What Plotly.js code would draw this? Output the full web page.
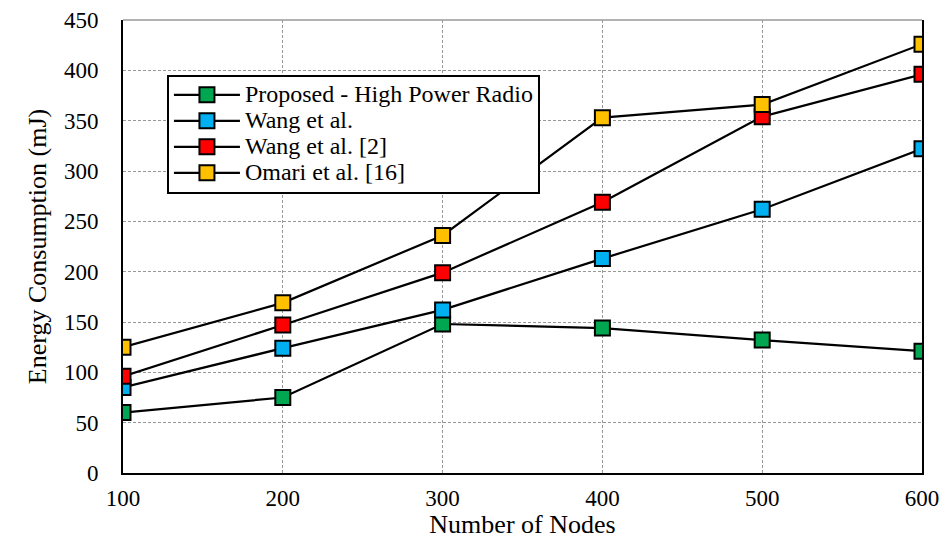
<!DOCTYPE html>
<html>
<head>
<meta charset="utf-8">
<script src="https://cdn.plot.ly/plotly-3.0.1.min.js"></script>
<style>html,body{margin:0;padding:0;background:#fff;}#chart{width:942px;height:539px;}</style>
</head>
<body>
<div id="chart"></div>
<script>
const nodes = [100, 200, 300, 400, 500, 600];
const proposed = [60, 75, 148, 144, 132, 121];
const wang = [85, 124, 162, 213, 262, 322];
const wang2 = [96, 147, 199, 269, 354, 396];
const omari = [125, 169, 236, 353, 366, 426];
const seriesNames = ["Proposed - High Power Radio", "Wang et al.", "Wang et al. [2]", "Omari et al. [16]"];
const seriesColors = ["#00A650", "#00B0F0", "#FF0000", "#FFC000"];
const seriesData = [proposed, wang, wang2, omari];

const traces = seriesData.map((ys, i) => ({
  x: nodes, y: ys, type: "scatter", mode: "lines+markers",
  name: '<span style="font-size:24px">' + seriesNames[i] + '</span>',
  line: {color: "#000", width: 2.2},
  marker: {symbol: "square", size: 15, color: seriesColors[i], line: {color: "#000", width: 2}}
}));

const font = {family: "'Liberation Serif'", color: "#000"};
const layout = {
  width: 942, height: 539,
  margin: {l: 123, r: 20, t: 20, b: 66},
  paper_bgcolor: "#fff", plot_bgcolor: "#fff",
  font: Object.assign({size: 23}, font),
  showlegend: true,
  legend: {
    x: 0.055, y: 0.879, xanchor: "left", yanchor: "top",
    bgcolor: "#fff", bordercolor: "#000", borderwidth: 2,
    font: Object.assign({size: 17.7}, font),
    tracegroupgap: 0, itemwidth: 66
  },
  xaxis: {
    range: [100, 600], tickvals: nodes, ticktext: nodes.map(String),
    showgrid: true, gridcolor: "#999", griddash: "3px,2px", gridwidth: 1,
    showline: true, linecolor: "#000", linewidth: 2,
    ticks: "", zeroline: false, ticklabelstandoff: 3,
    tickfont: Object.assign({size: 23}, font),
    title: {text: "Number of Nodes", font: Object.assign({size: 26}, font), standoff: 7}
  },
  yaxis: {
    range: [0, 450], dtick: 50,
    showgrid: true, gridcolor: "#999", griddash: "3px,2px", gridwidth: 1,
    showline: true, linecolor: "#000", linewidth: 2, mirror: true,
    ticks: "", zeroline: false, ticklabelstandoff: 18,
    tickfont: Object.assign({size: 23}, font),
    title: {text: "Energy Consumption (mJ)", font: Object.assign({size: 26}, font), standoff: 10}
  },
  shapes: [{type: "line", xref: "paper", yref: "paper", x0: 0, x1: 1, y0: 1, y1: 1,
            line: {color: "#999", width: 1.5}}]
};
Plotly.newPlot("chart", traces, layout, {displayModeBar: false, staticPlot: true});
</script>
</body>
</html>
